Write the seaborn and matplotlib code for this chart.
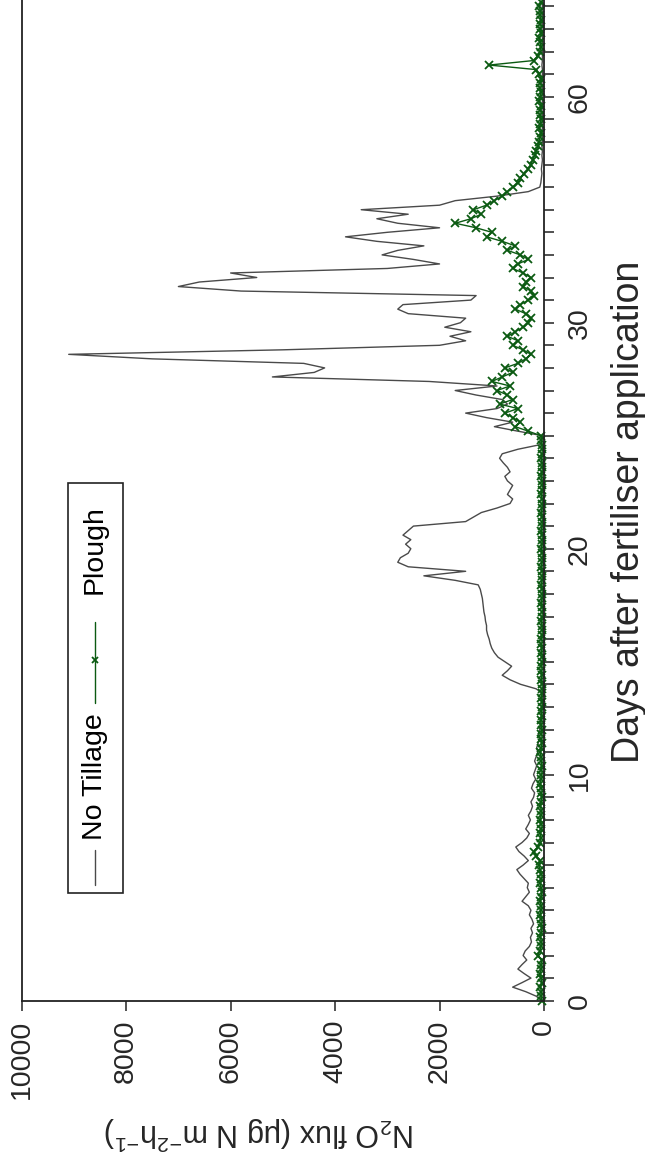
import numpy as np
import pandas as pd
import matplotlib
matplotlib.use("Agg")
import matplotlib.pyplot as plt
import seaborn as sns
from matplotlib.ticker import FixedLocator, FixedFormatter, MultipleLocator
from matplotlib.lines import Line2D
from matplotlib.patches import Rectangle

# ---------------- data ----------------
# readings are taken every 0.2 units along the drawn days axis
step = 0.2
nt_flux = [
    30, 150, 350, 600, 420, 250, 380, 500, 420, 330,
    400, 360, 280, 240, 260, 220, 250, 200, 230, 280,
    250, 300, 420, 350, 280, 320, 300, 380, 460, 520,
    400, 300, 380, 480, 540, 420, 330, 280, 350, 300,
    260, 300, 250, 220, 250, 200, 180, 240, 210, 160,
    200, 170, 140, 180, 150, 120, 140, 110, 90, 110,
    80, 70, 60, 50, 60, 40, 30, 40, 30, 150,
    450, 650, 800, 700, 620, 750, 880, 950, 1000, 1030,
    1050, 1080, 1100, 1100, 1120, 1130, 1150, 1160, 1170, 1180,
    1200, 1220, 1260, 1700, 2300, 1500, 2600, 2800, 2750, 2600,
    2550, 2650, 2550, 2700, 2600, 2500, 1500, 1350, 1200, 900,
    650, 600, 700, 650, 600, 700, 750, 650, 700, 780,
    850, 800, 500, 80, 40, 30, 500, 950, 600, 1100,
    1500, 900, 700, 800, 1300, 1700, 900, 2200, 5200, 4400,
    4200, 4600, 7500, 9100, 5000, 2000, 1500, 1800, 1400, 1900,
    1600, 1500, 2600, 2800, 2700, 1400, 1300, 5800, 7000, 6600,
    5500, 6000, 3000, 2000, 2500, 3100, 2800, 2300, 3200, 3800,
    3000, 2000, 2800, 3200, 2600, 3500, 2000, 1700, 900, 300,
    80, 60, 50, 40, 50, 40, 30, 40, 30, 40,
    30, 30, 40, 30, 40, 30, 30, 40, 30, 30,
    40, 30, 30, 40, 30, 30, 30, 40, 30, 30,
    30, 40, 30, 30, 30, 40, 30, 30, 30, 40,
    30, 30,
]
pl_flux = [
    40, 60, 50, 70, 40, 60, 80, 50, 60, 40,
    120, 80, 60, 50, 70, 60, 40, 60, 50, 70,
    60, 50, 80, 60, 40, 60, 70, 50, 60, 80,
    100, 70, 150, 200, 120, 80, 60, 70, 50, 60,
    80, 60, 50, 70, 60, 40, 60, 50, 70, 60,
    50, 60, 40, 50, 60, 70, 50, 40, 60, 50,
    40, 50, 60, 40, 50, 30, 40, 50, 40, 30,
    40, 50, 40, 60, 50, 40, 30, 50, 40, 60,
    50, 40, 30, 40, 50, 40, 30, 40, 50, 40,
    30, 40, 50, 40, 30, 40, 50, 40, 30, 40,
    50, 40, 30, 40, 50, 40, 30, 40, 50, 40,
    30, 40, 50, 40, 30, 40, 50, 40, 30, 40,
    50, 40, 30, 40, 50, 60, 300, 550, 450, 600,
    750, 500, 850, 600, 700, 900, 650, 1000, 800, 600,
    750, 500, 350, 250, 400, 600, 500, 700, 550, 400,
    300, 250, 350, 550, 450, 300, 200, 250, 400, 350,
    250, 400, 600, 500, 300, 450, 700, 550, 800, 1100,
    1000, 1300, 1700, 1400, 1200, 1350, 1100, 950, 800, 700,
    600, 500, 450, 380, 300, 250, 220, 180, 150, 120,
    100, 80, 60, 90, 70, 60, 80, 70, 60, 90,
    70, 60, 80, 70, 60, 90, 150, 1050, 200, 120,
    80, 60, 70, 90, 60, 80, 70, 60, 80, 70,
    90, 60,
]
nt_day = np.arange(len(nt_flux)) * step
pl_day = np.arange(len(pl_flux)) * step

day_ticks = [0, 10, 20, 30, 40]
day_labels = ["0", "10", "20", "30", "60"]
flux_ticks = [0, 2000, 4000, 6000, 8000, 10000]
flux_labels = ["0", "2000", "4000", "6000", "8000", "10000"]
series_names = ["No Tillage", "Plough"]

df_nt = pd.DataFrame({"day": nt_day, "flux": nt_flux})
df_pl = pd.DataFrame({"day": pl_day, "flux": pl_flux})

# ---------------- style ----------------
sns.set_theme(style="ticks")
plt.rcParams["font.family"] = ["Liberation Sans", "DejaVu Sans"]
plt.rcParams["mathtext.fontset"] = "custom"
plt.rcParams["mathtext.rm"] = "Liberation Sans"
plt.rcParams["mathtext.it"] = "Liberation Sans:italic"
plt.rcParams["mathtext.default"] = "regular"

W, H = 645, 1158
fig = plt.figure(figsize=(W / 100, H / 100), dpi=100)
fig.patch.set_facecolor("white")

ax_l, ax_r = 21.7, 544.0
ax_t, ax_b = 0.0, 1000.7
ax = fig.add_axes([ax_l / W, 1 - ax_b / H, (ax_r - ax_l) / W, (ax_b - ax_t) / H])
ax.set_facecolor("white")

gray = "#4a4a4a"
green = "#0b5a12"

sns.lineplot(data=df_nt, x="flux", y="day", orient="y", sort=False,
             estimator=None, color=gray, lw=1.0, ax=ax)
sns.lineplot(data=df_pl, x="flux", y="day", orient="y", sort=False,
             estimator=None, color=green, lw=1.0, marker="x",
             markersize=6, markeredgewidth=1.3, markeredgecolor=green,
             ax=ax, clip_on=False)

ax.set_xlim(10000, 0)
ax.set_ylim(0, (ax_b - ax_t) / 22.6)

ax.spines["top"].set_visible(False)
for s in ["left", "right", "bottom"]:
    ax.spines[s].set_visible(True)
    ax.spines[s].set_color("#222222")
    ax.spines[s].set_linewidth(1.3)

fs_tick = 20.5
ax.yaxis.tick_right()
ax.yaxis.set_major_locator(FixedLocator(day_ticks))
ax.yaxis.set_major_formatter(FixedFormatter(day_labels))
ax.yaxis.set_minor_locator(MultipleLocator(1))
ax.tick_params(axis="y", which="both", direction="out", length=7.5, width=1.2,
               color="#333333", labelsize=fs_tick, pad=9, labelrotation=90,
               right=True, left=False)
for t in ax.get_yticklabels():
    t.set_va("center")

ax.xaxis.set_major_locator(FixedLocator(flux_ticks))
ax.xaxis.set_major_formatter(FixedFormatter(flux_labels))
ax.tick_params(axis="x", which="both", direction="out", length=7.5, width=1.2,
               color="#333333", labelsize=fs_tick, pad=6, labelrotation=90)

ax.yaxis.set_label_position("right")
ax.set_ylabel("Days after fertiliser application", fontsize=27, rotation=90)
ax.yaxis.set_label_coords(1.128, 0.488)
ax.set_xlabel(r"N$_2$O flux ($\mu$g N m$^{-2}$h$^{-1}$)", fontsize=22,
              rotation=180)
ax.xaxis.set_label_coords(0.456, -0.113)

# ---------------- legend (rotated, drawn by hand) ----------------
def fx(x):
    return x / W


def fy(y):
    return 1 - y / H


fig.patches.append(Rectangle((fx(68.3), fy(892.7)), fx(122.7) - fx(68.3),
                             fy(482.7) - fy(892.7), transform=fig.transFigure,
                             fill=False, edgecolor="#222222", lw=1.2))
fig.lines.append(Line2D([fx(95), fx(95)], [fy(885), fy(850)],
                        transform=fig.transFigure, color=gray, lw=1.0))
fig.text(fx(95), fy(776.7), series_names[0], rotation=90, ha="center",
         va="center", fontsize=fs_tick, color="black")
fig.lines.append(Line2D([fx(95), fx(95)], [fy(703), fy(622)],
                        transform=fig.transFigure, color=green, lw=1.0))
fig.lines.append(Line2D([fx(95)], [fy(660)], transform=fig.transFigure,
                        color=green, marker="x", markersize=5,
                        markeredgewidth=1.3, lw=0))
fig.text(fx(95), fy(550), series_names[1], rotation=90, ha="center",
         va="center", fontsize=fs_tick, color="black")

fig.savefig("out.png", dpi=100, facecolor="white")
